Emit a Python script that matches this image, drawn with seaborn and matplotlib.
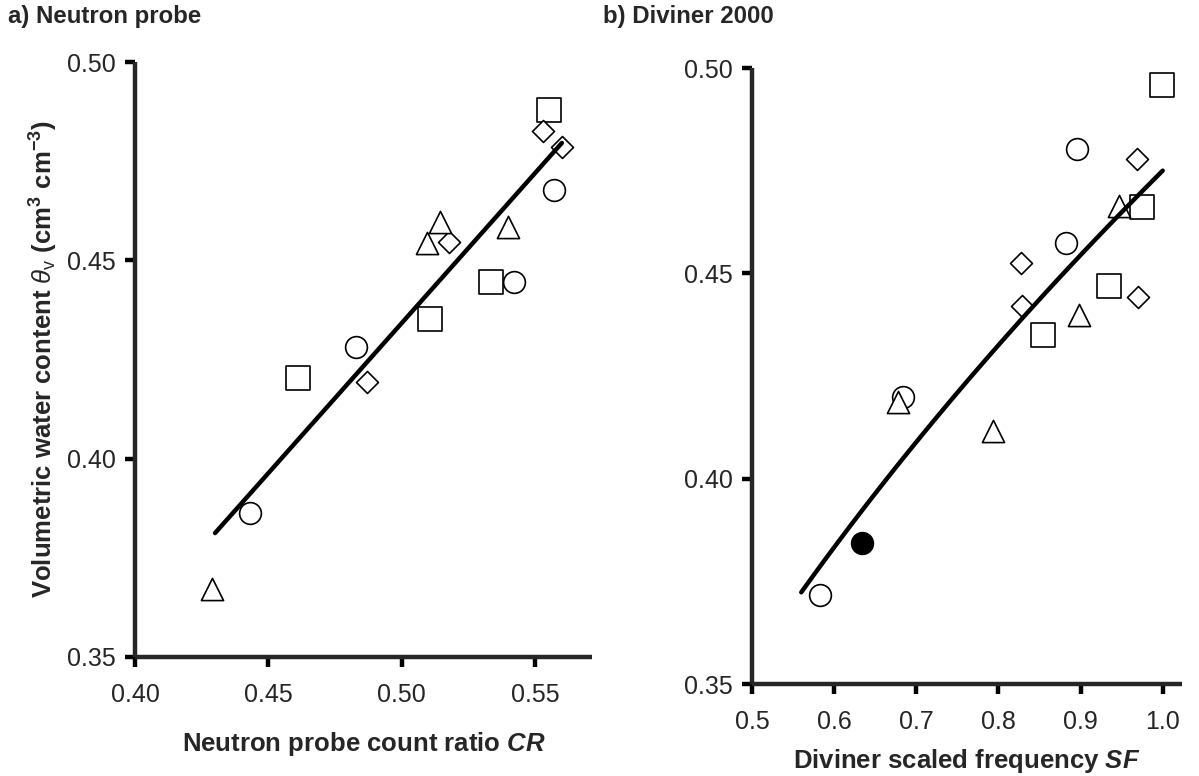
import numpy as np
import pandas as pd
import matplotlib
matplotlib.use("Agg")
import matplotlib.pyplot as plt
import seaborn as sns

# a) Neutron probe: count ratio CR against volumetric water content, per marker type
np_circle_cr = [0.557, 0.542, 0.483, 0.443]
np_circle_wc = [0.4677, 0.4445, 0.4281, 0.3863]
np_square_cr = [0.555, 0.5335, 0.5106, 0.4611]
np_square_wc = [0.4880, 0.4445, 0.4352, 0.4203]
np_diamond_cr = [0.553, 0.560, 0.5178, 0.487]
np_diamond_wc = [0.4826, 0.4786, 0.4546, 0.4193]
np_triangle_cr = [0.540, 0.5144, 0.5095, 0.4289]
np_triangle_wc = [0.4584, 0.4597, 0.4544, 0.3671]
# linear fit: wc = intercept + slope * CR, drawn over this CR range
np_fit = (0.0559, 0.7566)
np_fit_range = (0.430, 0.560)

# b) Diviner 2000: scaled frequency SF against volumetric water content
dv_circle_sf = [0.8954, 0.882, 0.6844, 0.5823]
dv_circle_wc = [0.4803, 0.4573, 0.4198, 0.3717]
dv_filled_sf = [0.6345]
dv_filled_wc = [0.3844]
dv_square_sf = [0.999, 0.9752, 0.935, 0.8548]
dv_square_wc = [0.4959, 0.4662, 0.4469, 0.4350]
dv_diamond_sf = [0.9684, 0.8276, 0.9703, 0.8292]
dv_diamond_wc = [0.4778, 0.4524, 0.4442, 0.4420]
dv_triangle_sf = [0.9468, 0.8986, 0.6776, 0.7932]
dv_triangle_wc = [0.4664, 0.4399, 0.4187, 0.4116]
# power fit: wc = a * SF ** b
dv_fit = (0.475, 0.42)
dv_fit_range = (0.56, 1.0)

np_xticks = [0.40, 0.45, 0.50, 0.55]
dv_xticks = [0.5, 0.6, 0.7, 0.8, 0.9, 1.0]
wc_ticks = [0.35, 0.40, 0.45, 0.50]

# marker style per group: (marker, size in pt^2, face colour)
styles = {
    "circle": ("o", 245, "white"),
    "filled": ("o", 245, "black"),
    "square": ("s", 280, "white"),
    "diamond": ("D", 125, "white"),
    "triangle": ("^", 255, "white"),
}


def make_frame(groups):
    rows = []
    for name, (xs, ys) in groups.items():
        for x, y in zip(xs, ys):
            rows.append({"x": x, "y": y, "group": name})
    return pd.DataFrame(rows)


sns.set_style("ticks")
plt.rcParams["font.family"] = ["Liberation Sans", "DejaVu Sans"]
plt.rcParams["mathtext.fontset"] = "custom"
plt.rcParams["mathtext.rm"] = "Liberation Sans:bold"
plt.rcParams["mathtext.it"] = "Liberation Sans:italic:bold"
plt.rcParams["mathtext.bf"] = "Liberation Sans:bold"
# plain (not bold) glyphs for the theta_v symbol
plt.rcParams["mathtext.sf"] = "Liberation Sans:italic"
plt.rcParams["mathtext.tt"] = "Liberation Sans"

fig = plt.figure(figsize=(11.99, 7.76), dpi=100)
ax_a = fig.add_axes([135 / 1199, 1 - 657 / 776, 457 / 1199, 595 / 776])
ax_b = fig.add_axes([752 / 1199, 1 - 684 / 776, 430 / 1199, 616 / 776])

df_a = make_frame({
    "circle": (np_circle_cr, np_circle_wc),
    "square": (np_square_cr, np_square_wc),
    "diamond": (np_diamond_cr, np_diamond_wc),
    "triangle": (np_triangle_cr, np_triangle_wc),
})
df_b = make_frame({
    "circle": (dv_circle_sf, dv_circle_wc),
    "filled": (dv_filled_sf, dv_filled_wc),
    "square": (dv_square_sf, dv_square_wc),
    "diamond": (dv_diamond_sf, dv_diamond_wc),
    "triangle": (dv_triangle_sf, dv_triangle_wc),
})

for ax, df in [(ax_a, df_a), (ax_b, df_b)]:
    for name, sub in df.groupby("group", sort=False):
        marker, size, face = styles[name]
        sns.scatterplot(data=sub, x="x", y="y", marker=marker, s=size,
                        color=face, edgecolor="black", linewidth=1.2,
                        ax=ax, zorder=3, legend=False)

# fitted curves
xa = np.linspace(*np_fit_range, 50)
sns.lineplot(x=xa, y=np_fit[0] + np_fit[1] * xa, color="black", lw=3.2,
             ax=ax_a, zorder=4)
xb = np.linspace(*dv_fit_range, 100)
sns.lineplot(x=xb, y=dv_fit[0] * xb ** dv_fit[1], color="black", lw=3.2,
             ax=ax_b, zorder=4)

ax_a.set_xlim(0.40, 0.5713)
ax_a.set_xticks(np_xticks)
ax_a.set_xticklabels([f"{t:.2f}" for t in np_xticks])
ax_b.set_xlim(0.5, 1.0235)
ax_b.set_xticks(dv_xticks)
ax_b.set_xticklabels([f"{t:.1f}" for t in dv_xticks])

for ax in (ax_a, ax_b):
    ax.set_ylim(0.35, 0.50)
    ax.set_yticks(wc_ticks)
    ax.set_yticklabels([f"{t:.2f}" for t in wc_ticks])
    sns.despine(ax=ax)
    for side in ("left", "bottom"):
        ax.spines[side].set_linewidth(3.2)
        ax.spines[side].set_capstyle("butt")
    ax.tick_params(axis="both", labelsize=18, width=3.2, length=7,
                   direction="out", color="black")
    ax.tick_params(axis="y", pad=7)
    ax.tick_params(axis="x", pad=12)
    ax.set_facecolor("white")
    for coll in ax.collections:
        coll.set_clip_on(False)

ax_a.set_xlabel("Neutron probe count ratio $CR$", fontsize=18.5,
                fontweight="bold", labelpad=16)
ax_b.set_xlabel("Diviner scaled frequency $SF$", fontsize=18.5,
                fontweight="bold", labelpad=9)
ax_a.set_ylabel(r"Volumetric water content $\mathsf{\theta}_{\mathtt{v}}$ (cm$^{3}$ cm$^{-3}$)",
                fontsize=18.5, fontweight="bold", labelpad=5)
ax_b.set_ylabel("")

fig.text(8 / 1199, 1 - 5 / 776, "a) Neutron probe", fontsize=17.3,
         fontweight="bold", va="top", ha="left")
fig.text(603 / 1199, 1 - 5 / 776, "b) Diviner 2000", fontsize=17.3,
         fontweight="bold", va="top", ha="left")

fig.savefig("out.png", dpi=100, facecolor="white")
